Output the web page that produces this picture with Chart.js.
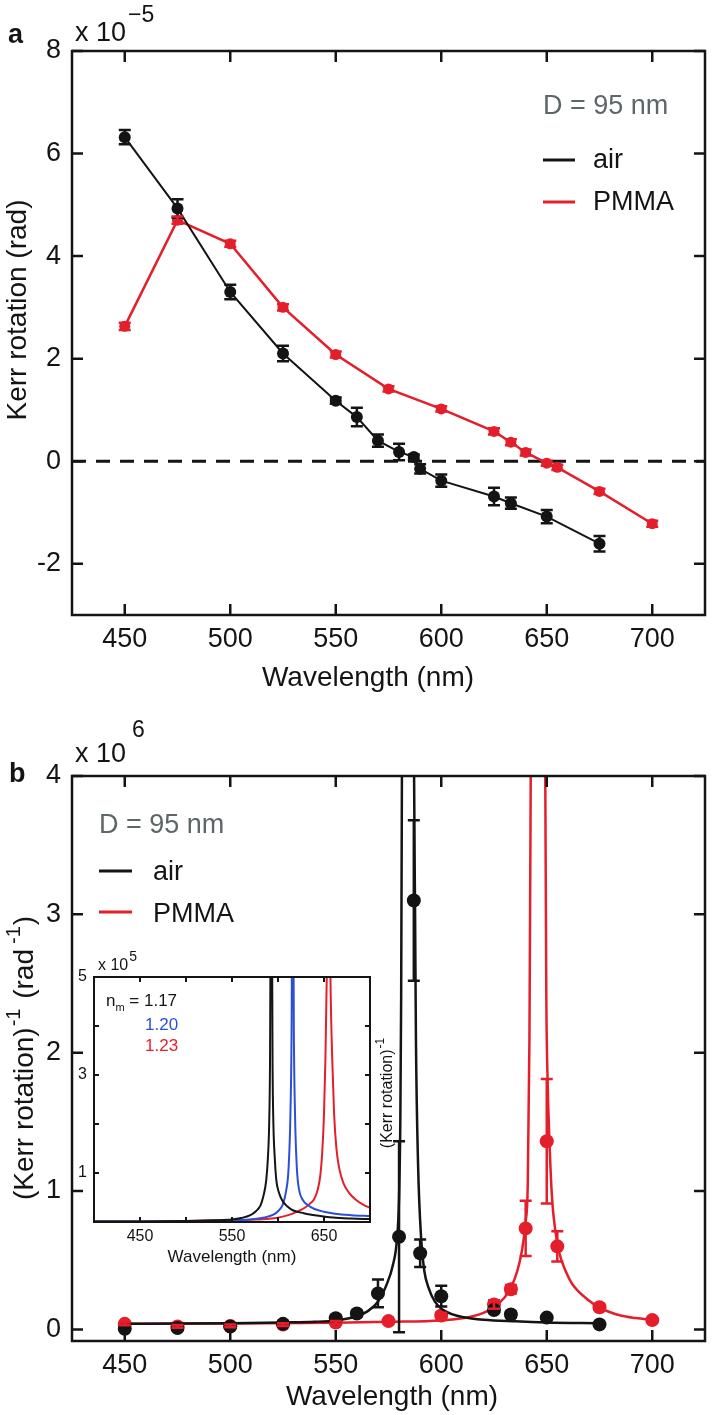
<!DOCTYPE html>
<html>
<head>
<meta charset="utf-8">
<script src="https://cdn.jsdelivr.net/npm/chart.js@4.4.1/dist/chart.umd.min.js"></script>
<style>
  html, body { margin: 0; padding: 0; background: #fff; }
  #wrap { position: relative; width: 713px; height: 1415px; }
  canvas { position: absolute; left: 0; }
  #cA { top: 0; }
  #cB { top: 700px; }
  #cI { top: 940px; }
</style>
</head>
<body>
<div id="wrap">
  <canvas id="cA" width="713" height="700" style="width:713px;height:700px"></canvas>
  <canvas id="cB" width="713" height="715" style="width:713px;height:715px"></canvas>
  <canvas id="cI" width="420" height="335" style="width:420px;height:335px"></canvas>
</div>
<script>
const FONT = '"Liberation Sans", Arial, Helvetica, sans-serif';
const INK = '#141414';
const RED = '#e41e2b';
const BLUE = '#2d4fd6';
const GREY = '#5d6767';

// ---- panel a : Kerr rotation (x 1e-5 rad) ----
const airWl   = [450, 475, 500, 525, 550, 560, 570, 580, 587, 590, 600, 625, 633, 650, 675];
const airKerr = [6.32, 4.93, 3.30, 2.10, 1.18, 0.86, 0.40, 0.18, 0.08, -0.15, -0.38, -0.69, -0.82, -1.08, -1.61];
const airErr  = [0.14, 0.18, 0.14, 0.15, 0.06, 0.18, 0.12, 0.16, 0.05, 0.09, 0.12, 0.17, 0.11, 0.13, 0.15];

const pmmaWl   = [450, 475, 500, 525, 550, 575, 600, 625, 633, 640, 650, 655, 675, 700];
const pmmaKerr = [2.63, 4.70, 4.24, 3.00, 2.08, 1.41, 1.02, 0.58, 0.37, 0.17, -0.04, -0.12, -0.59, -1.22];
const pmmaErr  = [0.07, 0.07, 0.06, 0.06, 0.06, 0.05, 0.05, 0.06, 0.06, 0.06, 0.05, 0.05, 0.05, 0.06];

const xTicksMain = [450, 500, 550, 600, 650, 700];
const yTicksA = [-2, 0, 2, 4, 6, 8];

// ---- panel b : inverse Kerr rotation (x 1e6 rad^-1) ----
const airInv    = [0.005, 0.01, 0.02, 0.04, 0.08, 0.115, 0.26, 0.67, 3.10, 0.55, 0.24, 0.14, 0.108, 0.085, 0.036];
const airInvErr = [0.01, 0.01, 0.01, 0.02, 0.02, 0.02, 0.10, 0.69, 0.58, 0.10, 0.075, 0.02, 0.02, 0.01, 0.01];
const pmmaInv    = [0.04, 0.021, 0.025, 0.035, 0.05, 0.06, 0.10, 0.18, 0.29, 0.73, 1.36, 0.60, 0.16, 0.067];
const pmmaInvErr = [0.01, 0.01, 0.01, 0.01, 0.01, 0.01, 0.02, 0.03, 0.03, 0.20, 0.45, 0.11, 0.02, 0.01];

const airFitWl = [450, 475, 500, 525, 540, 550, 560, 565, 570, 574, 577, 579, 580, 580.6, 581, 581.4, 582.2, 584.2, 586.3, 587, 587.6, 588, 589, 590.5, 592, 594, 597, 600, 605, 610, 620, 635, 650, 675];
const airFit   = [0.04, 0.042, 0.045, 0.05, 0.055, 0.065, 0.095, 0.13, 0.2, 0.32, 0.46, 0.65, 0.95, 1.5, 2.4, 4.2, 8, 14, 8, 4.3, 3.0, 2.1, 1.2, 0.65, 0.42, 0.3, 0.2, 0.15, 0.11, 0.09, 0.07, 0.058, 0.05, 0.045];

const pmmaFitWl = [450, 500, 550, 575, 600, 610, 615, 620, 625, 630, 633, 636, 638, 640, 641, 641.8, 642.4, 643.5, 645.8, 648.2, 649.3, 649.8, 650.4, 651.3, 652.5, 654, 656, 659, 662, 669, 676, 685, 692, 701];
const pmmaFit   = [0.04, 0.042, 0.048, 0.055, 0.065, 0.08, 0.095, 0.12, 0.16, 0.23, 0.3, 0.42, 0.55, 0.78, 1.05, 2.1, 4.0, 8, 14, 8, 4.0, 2.4, 1.8, 1.35, 0.95, 0.72, 0.55, 0.42, 0.33, 0.22, 0.15, 0.1, 0.082, 0.068];

const yTicksB = [0, 1, 2, 3, 4];

// ---- inset : calculated (x 1e5) ----
const inBlackWl = [400, 450, 500, 530, 550, 560, 570, 576, 581, 584, 587.2, 589, 590.4, 591.3, 592.7, 594.1, 595, 596.5, 598.2, 601, 604.3, 610, 616, 628, 640, 660, 680, 700];
const inBlack   = [0.01, 0.012, 0.02, 0.035, 0.05, 0.08, 0.14, 0.22, 0.34, 0.52, 0.85, 1.3, 2.0, 3.2, 9, 3.2, 2.0, 1.3, 0.85, 0.6, 0.45, 0.32, 0.24, 0.18, 0.14, 0.09, 0.07, 0.06];
const inBlueWl = [400, 450, 500, 550, 570, 585, 595, 600, 605, 609, 611.5, 613.5, 614.8, 616, 617.2, 618.5, 620.5, 623, 627, 632, 639, 650, 662, 680, 700];
const inBlue   = [0.01, 0.012, 0.02, 0.03, 0.05, 0.09, 0.15, 0.22, 0.35, 0.65, 1.1, 2.2, 4, 9, 4, 2.2, 1.1, 0.65, 0.45, 0.35, 0.27, 0.21, 0.17, 0.14, 0.12];
const inRedWl = [400, 450, 500, 550, 575, 593, 605, 616, 624, 630, 635, 639, 643, 646, 648, 650, 651.5, 653, 655, 657, 659, 661, 663.5, 666.5, 671, 677, 685, 693, 700];
const inRed   = [0.008, 0.012, 0.02, 0.035, 0.05, 0.07, 0.11, 0.17, 0.24, 0.3, 0.38, 0.46, 0.65, 0.95, 1.4, 2.2, 3.3, 5, 9, 5, 3.3, 2.2, 1.5, 1.1, 0.8, 0.6, 0.45, 0.35, 0.29];

const xTicksIn = [450, 500, 550, 600, 650];
const xLabelsIn = [450, 550, 650];
const yTicksIn = [1, 2, 3, 4, 5];
const yLabelsIn = [1, 3, 5];

const pts = (xs, ys) => xs.map((x, i) => ({ x: x, y: ys[i] }));

Chart.defaults.font.family = FONT;
Chart.defaults.color = INK;

function drawRich(ctx, item) {
  ctx.save();
  ctx.translate(item.x, item.y);
  if (item.rot) ctx.rotate(-Math.PI / 2);
  ctx.textBaseline = 'alphabetic';
  const segs = item.parts.map(p => {
    ctx.font = (p.bold ? 'bold ' : '') + p.size + 'px ' + FONT;
    return Object.assign({ w: ctx.measureText(p.t).width }, p);
  });
  const total = segs.reduce((s, p) => s + p.w + (p.dx || 0), 0);
  let x = item.align === 'center' ? -total / 2 : 0;
  segs.forEach(p => {
    x += p.dx || 0;
    ctx.font = (p.bold ? 'bold ' : '') + p.size + 'px ' + FONT;
    ctx.fillStyle = p.color || INK;
    ctx.fillText(p.t, x, p.dy || 0);
    x += p.w;
  });
  ctx.restore();
}

// frame, inward ticks, error bars, dashed zero line, legends and labels
const frame = {
  id: 'frame',
  beforeDatasetsDraw(chart, args, o) {
    const ctx = chart.ctx, ca = chart.chartArea;
    ctx.save();
    if (o.fillArea) {
      ctx.fillStyle = '#fff';
      ctx.fillRect(ca.left, ca.top, ca.right - ca.left, ca.bottom - ca.top);
    }
    if (o.zeroLine) {
      const y = chart.scales.y.getPixelForValue(0);
      ctx.setLineDash([14, 10]);
      ctx.lineWidth = 3;
      ctx.strokeStyle = INK;
      ctx.beginPath();
      ctx.moveTo(ca.left, y);
      ctx.lineTo(ca.right, y);
      ctx.stroke();
    }
    ctx.restore();
  },
  afterDatasetsDraw(chart, args, o) {
    const ctx = chart.ctx, ca = chart.chartArea;
    const xs = chart.scales.x, ys = chart.scales.y;
    ctx.save();
    // error bars
    chart.data.datasets.forEach(ds => {
      if (!ds.errors) return;
      ctx.strokeStyle = ds.errColor;
      ctx.lineWidth = o.errWidth;
      ds.data.forEach((p, i) => {
        const e = ds.errors[i];
        const px = xs.getPixelForValue(p.x);
        const y1 = ys.getPixelForValue(p.y - e), y2 = ys.getPixelForValue(p.y + e);
        const c = o.cap;
        ctx.beginPath();
        ctx.moveTo(px, y1); ctx.lineTo(px, y2);
        ctx.moveTo(px - c, y1); ctx.lineTo(px + c, y1);
        ctx.moveTo(px - c, y2); ctx.lineTo(px + c, y2);
        ctx.stroke();
      });
    });
    // box and inward ticks on all four sides
    ctx.strokeStyle = INK;
    ctx.lineWidth = o.lw;
    ctx.strokeRect(ca.left, ca.top, ca.right - ca.left, ca.bottom - ca.top);
    const L = o.tick;
    ctx.beginPath();
    xs.ticks.forEach(t => {
      const px = xs.getPixelForValue(t.value);
      ctx.moveTo(px, ca.bottom); ctx.lineTo(px, ca.bottom - L);
      ctx.moveTo(px, ca.top); ctx.lineTo(px, ca.top + L);
    });
    ys.ticks.forEach(t => {
      const py = ys.getPixelForValue(t.value);
      ctx.moveTo(ca.left, py); ctx.lineTo(ca.left + L, py);
      ctx.moveTo(ca.right, py); ctx.lineTo(ca.right - L, py);
    });
    ctx.stroke();
    ctx.restore();
  },
  afterDraw(chart, args, o) {
    const ctx = chart.ctx;
    (o.lines || []).forEach(l => {
      ctx.save();
      ctx.strokeStyle = l.color;
      ctx.lineWidth = l.w;
      ctx.beginPath();
      ctx.moveTo(l.x1, l.y);
      ctx.lineTo(l.x2, l.y);
      ctx.stroke();
      ctx.restore();
    });
    (o.texts || []).forEach(t => drawRich(ctx, t));
  }
};

function axis(min, max, ticks, opts) {
  return {
    type: 'linear',
    min: min,
    max: max,
    position: opts.position,
    grid: { display: false, drawTicks: false },
    border: { display: false },
    afterBuildTicks: s => { s.ticks = ticks.map(v => ({ value: v })); },
    afterFit: s => { if (opts.width) s.width = opts.width; if (opts.height) s.height = opts.height; },
    ticks: {
      font: { size: opts.size },
      color: INK,
      padding: opts.pad,
      maxRotation: 0,
      autoSkip: false,
      callback: opts.labels ? (v => opts.labels.includes(v) ? String(v) : '') : (v => String(v))
    }
  };
}

// ---------- panel a ----------
new Chart(document.getElementById('cA'), {
  type: 'scatter',
  data: {
    datasets: [
      {
        label: 'air', data: pts(airWl, airKerr), errors: airErr, errColor: INK,
        showLine: true, borderColor: INK, borderWidth: 2,
        pointRadius: 6, pointBackgroundColor: INK, pointBorderWidth: 0, order: 0
      },
      {
        label: 'PMMA', data: pts(pmmaWl, pmmaKerr), errors: pmmaErr, errColor: RED,
        showLine: true, borderColor: RED, borderWidth: 2.5,
        pointRadius: 5.5, pointBackgroundColor: RED, pointBorderWidth: 0, order: 1
      }
    ]
  },
  options: {
    responsive: false,
    animation: false,
    events: [],
    layout: { padding: { top: 51, right: 8, left: 0, bottom: 0 } },
    scales: {
      x: axis(425, 725, xTicksMain, { position: 'bottom', height: 85, size: 27, pad: 8 }),
      y: axis(-3, 8, yTicksA, { position: 'left', width: 72, size: 27, pad: 11 })
    },
    plugins: {
      legend: { display: false },
      tooltip: { enabled: false },
      frame: {
        lw: 2.5, tick: 11, errWidth: 2.5, cap: 6, zeroLine: true,
        lines: [
          { x1: 543, x2: 575, y: 160, color: INK, w: 3 },
          { x1: 543, x2: 575, y: 202, color: RED, w: 3 }
        ],
        texts: [
          { x: 8, y: 43, parts: [{ t: 'a', size: 27, bold: true }] },
          { x: 75, y: 41, parts: [{ t: 'x 10', size: 27 }, { t: '\u22125', size: 23, dy: -19, dx: 2 }] },
          { x: 543, y: 114, parts: [{ t: 'D = 95 nm', size: 27, color: GREY }] },
          { x: 593, y: 168, parts: [{ t: 'air', size: 27 }] },
          { x: 593, y: 210, parts: [{ t: 'PMMA', size: 27 }] },
          { x: 26, y: 310, rot: true, align: 'center', parts: [{ t: 'Kerr rotation (rad)', size: 28 }] },
          { x: 368, y: 686, align: 'center', parts: [{ t: 'Wavelength (nm)', size: 28 }] }
        ]
      }
    }
  },
  plugins: [frame]
});

// ---------- panel b ----------
new Chart(document.getElementById('cB'), {
  type: 'scatter',
  data: {
    datasets: [
      {
        label: 'air', data: pts(airWl, airInv), errors: airInvErr, errColor: INK,
        showLine: false, pointRadius: 7, pointBackgroundColor: INK, pointBorderWidth: 0, order: 0
      },
      {
        label: 'air fit', data: pts(airFitWl, airFit),
        showLine: true, borderColor: INK, borderWidth: 2.5, pointRadius: 0,
        cubicInterpolationMode: 'monotone', order: 1
      },
      {
        label: 'PMMA', data: pts(pmmaWl, pmmaInv), errors: pmmaInvErr, errColor: RED,
        showLine: false, pointRadius: 7, pointBackgroundColor: RED, pointBorderWidth: 0, order: 2
      },
      {
        label: 'PMMA fit', data: pts(pmmaFitWl, pmmaFit),
        showLine: true, borderColor: RED, borderWidth: 2.5, pointRadius: 0,
        cubicInterpolationMode: 'monotone', order: 3
      }
    ]
  },
  options: {
    responsive: false,
    animation: false,
    events: [],
    layout: { padding: { top: 76, right: 8, left: 0, bottom: 0 } },
    scales: {
      x: axis(425, 725, xTicksMain, { position: 'bottom', height: 74, size: 27, pad: 8 }),
      y: axis(-0.084, 4, yTicksB, { position: 'left', width: 72, size: 27, pad: 11 })
    },
    plugins: {
      legend: { display: false },
      tooltip: { enabled: false },
      frame: {
        lw: 2.5, tick: 11, errWidth: 2.5, cap: 6,
        lines: [
          { x1: 99, x2: 132, y: 171, color: INK, w: 3 },
          { x1: 99, x2: 132, y: 212, color: RED, w: 3 }
        ],
        texts: [
          { x: 9, y: 82, parts: [{ t: 'b', size: 27, bold: true }] },
          { x: 75, y: 62, parts: [{ t: 'x 10', size: 27 }, { t: '6', size: 23, dy: -25, dx: 6 }] },
          { x: 99, y: 133, parts: [{ t: 'D = 95 nm', size: 27, color: GREY }] },
          { x: 153, y: 180, parts: [{ t: 'air', size: 27 }] },
          { x: 153, y: 222, parts: [{ t: 'PMMA', size: 27 }] },
          {
            x: 33, y: 358, rot: true, align: 'center', parts: [
              { t: '(Kerr rotation)', size: 28 }, { t: '-1', size: 20, dy: -13, dx: 1 },
              { t: ' (rad', size: 28, dx: 2 }, { t: '-1', size: 20, dy: -13, dx: 5 }, { t: ')', size: 28, dx: 1 }
            ]
          },
          { x: 392, y: 705, align: 'center', parts: [{ t: 'Wavelength (nm)', size: 28 }] }
        ]
      }
    }
  },
  plugins: [frame]
});

// ---------- inset ----------
new Chart(document.getElementById('cI'), {
  type: 'scatter',
  data: {
    datasets: [
      { label: '1.17', data: pts(inBlackWl, inBlack), showLine: true, borderColor: INK, borderWidth: 2, pointRadius: 0, cubicInterpolationMode: 'monotone', order: 0 },
      { label: '1.20', data: pts(inBlueWl, inBlue), showLine: true, borderColor: BLUE, borderWidth: 2, pointRadius: 0, cubicInterpolationMode: 'monotone', order: 1 },
      { label: '1.23', data: pts(inRedWl, inRed), showLine: true, borderColor: RED, borderWidth: 2, pointRadius: 0, cubicInterpolationMode: 'monotone', order: 2 }
    ]
  },
  options: {
    responsive: false,
    animation: false,
    events: [],
    layout: { padding: { top: 37, right: 50, left: 0, bottom: 0 } },
    scales: {
      x: axis(400, 700, xTicksIn, { position: 'bottom', height: 53, size: 16, pad: 5, labels: xLabelsIn }),
      y: axis(0, 5, yTicksIn, { position: 'left', width: 94, size: 16, pad: 7, labels: yLabelsIn })
    },
    plugins: {
      legend: { display: false },
      tooltip: { enabled: false },
      frame: {
        lw: 2, tick: 5, fillArea: true,
        texts: [
          { x: 98, y: 30, parts: [{ t: 'x 10', size: 16 }, { t: '5', size: 14, dy: -9, dx: 1 }] },
          { x: 106, y: 66, parts: [{ t: 'n', size: 17 }, { t: 'm', size: 11, dy: 5 }, { t: ' = 1.17', size: 17 }] },
          { x: 145, y: 90, parts: [{ t: '1.20', size: 17, color: BLUE }] },
          { x: 145, y: 111, parts: [{ t: '1.23', size: 17, color: RED }] },
          { x: 392, y: 153, rot: true, align: 'center', parts: [{ t: '(Kerr rotation)', size: 16 }, { t: '-1', size: 12, dy: -8, dx: 1 }] },
          { x: 232, y: 322, align: 'center', parts: [{ t: 'Wavelength (nm)', size: 17 }] }
        ]
      }
    }
  },
  plugins: [frame]
});
</script>
</body>
</html>
